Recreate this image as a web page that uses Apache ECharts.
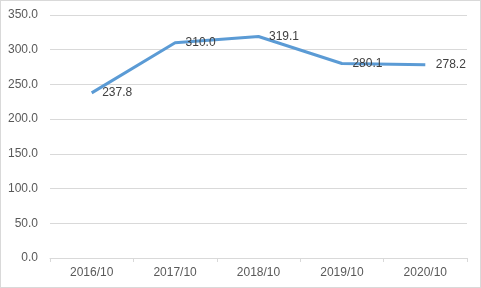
<!DOCTYPE html>
<html><head><meta charset="utf-8">
<script src="https://cdn.jsdelivr.net/npm/echarts@6/dist/echarts.min.js"></script>
<style>html,body{margin:0;padding:0;background:#fff}#c{width:481px;height:288px;box-sizing:border-box;border:1px solid #d9d9d9}</style>
</head><body><div id="c"></div>
<script>
const categories = ['2016/10','2017/10','2018/10','2019/10','2020/10'];
const values = [237.8, 310.0, 319.1, 280.1, 278.2];
const chart = echarts.init(document.getElementById('c'), null, {renderer:'canvas'});
chart.setOption({
  animation:false,
  grid:{left:49,right:13,top:14,bottom:29},
  xAxis:{type:'category',data:categories,boundaryGap:true,
    axisLine:{lineStyle:{color:'#d9d9d9'}},
    axisTick:{show:true,lineStyle:{color:'#d9d9d9'},length:4},
    axisLabel:{color:'#595959',fontSize:12,fontFamily:'Liberation Sans, sans-serif',margin:9}},
  yAxis:{type:'value',min:0,max:350,interval:50,
    axisLine:{show:false},axisTick:{show:false},
    splitLine:{lineStyle:{color:'#d9d9d9'}},
    axisLabel:{color:'#595959',fontSize:12,fontFamily:'Liberation Sans, sans-serif',margin:12,formatter:v=>v.toFixed(1)}},
  series:[{type:'line',data:values,symbol:'circle',symbolSize:1,showSymbol:true,
    itemStyle:{color:'rgba(91,155,213,0)',borderWidth:0},
    lineStyle:{color:'#5b9bd5',width:3},
    label:{show:true,position:'right',distance:10,color:'#404040',fontSize:12,fontFamily:'Liberation Sans, sans-serif',formatter:p=>p.value.toFixed(1)}}]
});
</script></body></html>
